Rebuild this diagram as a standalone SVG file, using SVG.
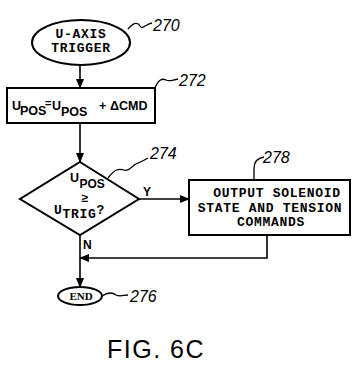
<svg xmlns="http://www.w3.org/2000/svg" width="357" height="376" viewBox="0 0 357 376">
<style>
.shape{fill:#fff;stroke:#000;stroke-width:2}
.line{fill:none;stroke:#000;stroke-width:1.6}
.sq{fill:none;stroke:#000;stroke-width:1.3}
.mono{font-family:"Liberation Mono",monospace;font-weight:bold;font-size:13px;letter-spacing:0.7px;fill:#000}
.sans{font-family:"Liberation Sans",Arial,sans-serif;font-weight:bold;fill:#000}
.ref{font-family:"Liberation Sans",Arial,sans-serif;font-style:italic;font-size:16px;fill:#000}
</style>
<defs>
<marker id="ah" markerWidth="10" markerHeight="8" refX="9" refY="4" orient="auto" markerUnits="userSpaceOnUse">
<path d="M0,0 L10,4 L0,8 Z" fill="#000"/>
</marker>
</defs>
<g id="connectors">
<line class="line" x1="80" y1="65" x2="80" y2="88" marker-end="url(#ah)"/>
<line class="line" x1="80" y1="123" x2="80" y2="162" marker-end="url(#ah)"/>
<line class="line" x1="139" y1="199" x2="189" y2="199" marker-end="url(#ah)"/>
<polyline class="line" points="267,235 267,258 80,258" marker-end="url(#ah)"/>
<line class="line" x1="80" y1="235" x2="80" y2="287" marker-end="url(#ah)"/>
<text class="sans" x="143" y="196" font-size="12">Y</text>
<text class="sans" x="83" y="249" font-size="12">N</text>
</g>
<g id="n270">
<ellipse class="shape" cx="81" cy="42.5" rx="49" ry="22.5"/>
<text class="mono" x="81" y="38" text-anchor="middle">U-AXIS</text>
<text class="mono" x="81" y="52" text-anchor="middle">TRIGGER</text>
<path class="sq" d="M128,29 C134,22 138,22 140,26 C142,30 146,24 152,23"/>
<text class="ref" x="153" y="31">270</text>
</g>
<g id="n272">
<rect class="shape" x="7" y="88" width="148" height="35"/>
<text class="sans" font-size="12.5" x="12" y="110">U</text>
<text class="sans" font-size="12.5" x="20" y="115">POS</text>
<text class="sans" font-size="11" x="45" y="107">=</text>
<text class="sans" font-size="12.5" x="52" y="110">U</text>
<text class="sans" font-size="12.5" x="61" y="116">POS</text>
<text class="sans" font-size="12.5" x="99" y="110">+</text>
<text class="sans" font-size="12.5" x="110" y="110">ΔCMD</text>
<path class="sq" d="M155,88 C158,80 162,78 166,80 C170,82 172,80 178,79"/>
<text class="ref" x="179" y="86">272</text>
</g>
<g id="n274">
<polygon class="shape" points="80,162 139,199 80,235 20,199"/>
<text class="sans" x="70" y="182" font-size="12.5">U</text>
<text class="sans" x="79.5" y="188" font-size="12">POS</text>
<text class="sans" x="85" y="202" font-size="12" text-anchor="middle">≥</text>
<text class="mono" x="54" y="214">U<tspan dy="4">TRIG</tspan><tspan dy="-4">?</tspan></text>
<path class="sq" d="M108,178 C114,170 118,168 124,170 C128,172 132,166 136,164 C140,162 143,161 148,158"/>
<text class="ref" x="150" y="159">274</text>
</g>
<g id="n278">
<rect class="shape" x="189" y="180" width="161" height="55"/>
<text class="mono" x="277" y="197" text-anchor="middle">OUTPUT SOLENOID</text>
<text class="mono" x="270" y="212" text-anchor="middle">STATE AND TENSION</text>
<text class="mono" x="271" y="226" text-anchor="middle">COMMANDS</text>
<path class="sq" d="M254,180 L254,168 C254,162 258,158 264,157"/>
<text class="ref" x="263" y="163">278</text>
</g>
<g id="n276">
<ellipse class="shape" cx="80" cy="296" rx="22" ry="9"/>
<text x="81" y="300" text-anchor="middle" font-family="Liberation Serif,serif" font-weight="bold" font-size="11">END</text>
<path class="sq" d="M102,296 C108,292 112,292 116,295 C120,297 124,295 128,295"/>
<text class="ref" x="130" y="302">276</text>
</g>
<text x="107" y="358" font-family="Liberation Sans,Arial,sans-serif" font-size="25" letter-spacing="1.5" fill="#000">FIG. 6C</text>
</svg>
